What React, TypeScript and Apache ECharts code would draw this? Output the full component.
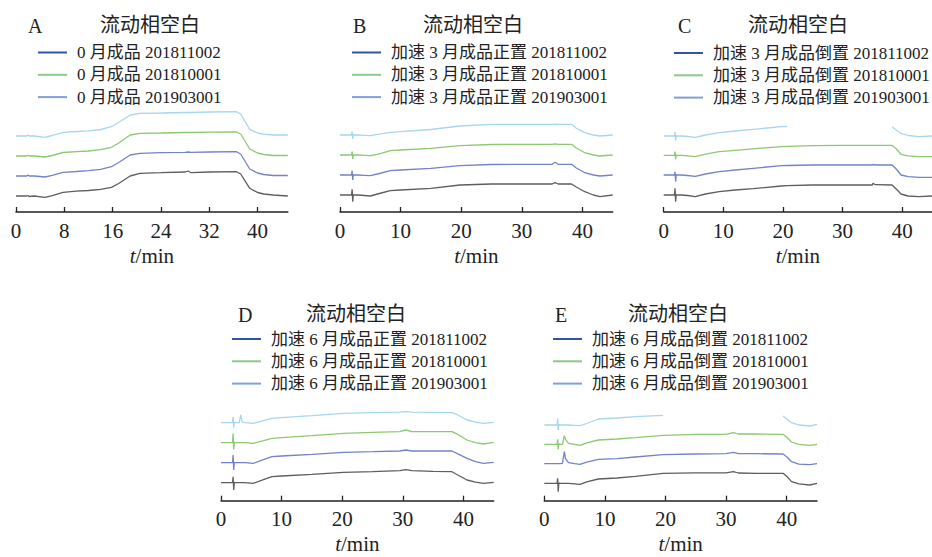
import React, { useEffect, useRef } from "react";
import * as echarts from "echarts";

const FONT = "'Liberation Serif', 'Noto Sans CJK SC', serif";
const TITLE_TEXT = "流动相空白";
const X_NAME = "{i|t}/min";

const COLORS_TRACE = ["#a6d6f0", "#8dc872", "#7383c8", "#5e5e5e"];
const COLORS_LEGEND = ["#2f55a4", "#8cc98a", "#7fa0d8"];

// Panel A
const ticksA = [0, 8, 16, 24, 32, 40];
const legendA = ["0 月成品 201811002", "0 月成品 201810001", "0 月成品 201903001"];
const baseA = [76, 56, 36, 16];
const tA = [0, 1.8, 2.0, 2.2, 3, 4.8, 6, 7.8, 10, 12, 14, 15.8, 17, 18.9, 20.5, 24, 28, 28.5, 29, 32, 36.5, 37.2, 38.7, 40, 41, 42.6, 45];
const A1 = [0, 0, 1, 0, 0, -1.3, 0.5, 3.7, 4.5, 5.2, 6.5, 9.3, 13.5, 21, 22.7, 23, 23.5, 23.5, 23.5, 24, 24.3, 22, 6.7, 3, 1.8, 1, 1];
const A2 = [0, 0, 0.8, 0, 0, -1, 0.5, 3.5, 4.3, 5, 6.3, 8.7, 13, 21, 22.7, 23, 23.5, 23.5, 23.5, 23.8, 24, 22, 7, 3, 1.5, 0.5, 0.5];
const A3 = [0, 0, 1, 0, 0, -1, 0.7, 3.7, 4.5, 5.3, 6.7, 9.3, 13.5, 21, 22.7, 23.3, 23.7, 24, 23.7, 24, 24.3, 22, 7, 3, 1.5, 0.5, 0.5];
const A4 = [0, 0, 0.5, -0.5, 0, -1.3, 0.3, 3.7, 4.8, 5.5, 6.7, 8.7, 12.5, 20, 22.7, 23.3, 24, 25, 23.3, 24, 24.3, 22, 7.7, 3.5, 2, 1, 0];

// Panel B
const ticksB = [0, 10, 20, 30, 40];
const legendB = ["加速 3 月成品正置 201811002", "加速 3 月成品正置 201810001", "加速 3 月成品正置 201903001"];
const baseB = [77, 57, 37, 17];
const tB = [0, 1.9, 2.0, 2.1, 2.2, 2.3, 3, 4, 5, 6.5, 8.3, 10, 15, 19.8, 25, 30, 35, 35.5, 36, 38.2, 39, 40.4, 41.8, 42.9, 45];
const B1 = [0, 0, 3.5, -4, 0.5, 0, 0, -0.3, -0.7, 0.8, 2.7, 3.3, 5.5, 9, 10.7, 10.7, 10.7, 10.8, 10.7, 10.7, 6.7, 2.3, 0, -1, 0];
const B2 = [0, 0, 3.5, -4, 0.5, 0, 0, -0.3, -0.7, 1.2, 4.3, 5, 6.7, 9.3, 10.5, 10.7, 10.7, 11.2, 10.7, 10.7, 7, 2.3, 0, -1, 0];
const B3 = [0, 0, 4.3, -5, 0.5, 0, 0, -0.3, -0.7, 1.5, 4.3, 5, 6.7, 9.3, 10.5, 10.7, 10.7, 12.7, 10.7, 10.7, 7, 2.3, 0, -1, 0];
const B4 = [0, 0, 5.7, -6.7, 0.5, 0, 0, -0.5, -1, 1.5, 4.3, 5, 6.7, 10, 11, 11, 11, 12.3, 11, 11, 8, 3.3, 0, -1.7, 0];

// Panel C
const ticksC = [0, 10, 20, 30, 40];
const legendC = ["加速 3 月成品倒置 201811002", "加速 3 月成品倒置 201810001", "加速 3 月成品倒置 201903001"];
const baseC = [76, 56.7, 37, 17];
const tC = [0, 1.8, 1.9, 2.0, 2.1, 2.2, 3, 4, 5.3, 7, 9.3, 12, 15, 19.7, 20.7, 25, 30, 35, 35.1, 35.5, 38.3, 39, 39.8, 41, 42.8, 45];
const C1 = [0, 0, 4.3, -4.7, 0.5, 0, 0, -0.5, -1.3, 1, 3.3, 5, 6.7, 9.3, 9.5, "-", "-", "-", "-", "-", 9.3, 6, 2.7, 0.5, -0.7, 0];
const C2 = [0, 0, 3.7, -4, 0.5, 0, 0, -0.5, -1.3, 1.2, 3.7, 5, 6.5, 8.7, 9, 9.7, 10, 10, 10, 10, 10, 6.5, 1, -0.5, -1.3, -1.3];
const C3 = [0, 0, 3.3, -6.7, 0.5, 0, 0, -0.5, -1.3, 1, 3.3, 5, 6.7, 9.3, 9.5, 10, 10, 10, 10.5, 10, 10, 6, 0, -1.7, -2.3, -2.3];
const C4 = [0, 0, 6.7, -6.7, 0.5, 0, 0, -0.5, -1.7, 1, 3.3, 5, 6.3, 9, 9.3, 10, 10, 10, 11.7, 10.3, 10, 6, 1, -1, -1.7, -1];

// Panel D
const ticksD = [0, 10, 20, 30, 40];
const legendD = ["加速 6 月成品正置 201811002", "加速 6 月成品正置 201810001", "加速 6 月成品正置 201903001"];
const baseD = [78, 58, 38, 18];
const tD = [0, 1.9, 2.0, 2.1, 2.2, 2.3, 3.0, 3.25, 3.5, 4, 5.3, 7, 8.4, 10, 15, 20.2, 25, 29.5, 30.5, 31.5, 35, 38.1, 39, 40.6, 42, 43.3, 45];
const D1 = [0, 0, 6, -4.7, 0.5, 0, 0, 7.7, 0.5, 0, -0.7, 2, 4.3, 5, 7, 9.3, 10, 10.5, 11, 10.5, 10.3, 10, 8, 2.7, 0.5, -0.7, 0.3];
const D2 = [0, 0, 9.3, -6.7, 0.5, 0, 0, 0, 0, 0, -0.7, 2, 4.3, 5, 7, 9.3, 10.3, 11, 12.7, 11, 11, 11, 8.5, 2.7, 0, -1.3, 0.3];
const D3 = [0, 0, 7.7, -7.3, 0.5, 0, 0, 0, 0, 0, -0.7, 3, 6, 6.7, 8.3, 10.3, 11, 11.7, 12.7, 11.7, 11.7, 11.7, 9, 4.3, 1, -0.7, 0.3];
const D4 = [0, 0, 6, -7.3, 0.5, 0, 0, 0, 0, 0, -0.7, 3, 6, 6.7, 8.3, 10.3, 11, 12, 13, 12, 11.3, 11, 8, 2.7, 0.5, -0.7, 0.3];

// Panel E
const ticksE = [0, 10, 20, 30, 40];
const legendE = ["加速 6 月成品倒置 201811002", "加速 6 月成品倒置 201810001", "加速 6 月成品倒置 201903001"];
const baseE = [75.7, 56.4, 37, 17.4];
const tE = [0, 2.1, 2.2, 2.3, 2.4, 2.5, 3.0, 3.3, 3.5, 4, 5, 5.9, 7, 8.9, 12, 15, 19.6, 25, 30, 31.2, 32, 35, 39.4, 40, 40.8, 42, 43.8, 45];
const E1 = [0, 0, 6.7, -5, 0.5, 0, 0, 0, 0, 0, -0.3, -0.7, 1.5, 6, 7, 8.3, 9.7, "-", "-", "-", "-", "-", 9, 6, 2.3, 0, -1, 0.7];
const E2 = [0, 0, 5, -5, 0.5, 0, 0, 8.7, 5, 1, 0, -1, 1.5, 4.3, 5.3, 6.7, 9, 10, 10, 11.7, 10.3, 10.3, 10, 7, 2.3, 0, -1, 0];
const E3 = [0, 0, 0, 0, 0, 0, 0.3, 12, 5, 1, 0, -0.7, 1.5, 4.3, 5, 6.7, 9, 9.7, 10, 11.3, 10, 10, 9.7, 7, 2, -0.5, -1, 0];
const E4 = [0, 0, 5, -8.3, 0.5, 0, 0, 0, 0, 0, -0.5, -1, 1.5, 4.3, 5.3, 7, 10, 10.5, 10.5, 11.7, 10.3, 10, 10, 7, 1.7, -0.5, -1.7, 0];

const X_MAX = 45;

type Panel = {
  id: string;
  ticks: number[];
  legend: string[];
  base: number[];
  t: number[];
  traces: (number | string)[][];
  grid: { left: number; top: number; width: number; height: number };
  letterPos: [number, number];
  titlePos: [number, number];
  legendPos: [number, number];
};

const panels: Panel[] = [
  { id: "A", ticks: ticksA, legend: legendA, base: baseA, t: tA, traces: [A1, A2, A3, A4],
    grid: { left: 16, top: 100, width: 271.8, height: 112 }, letterPos: [28, 16], titlePos: [100, 15], legendPos: [38, 44] },
  { id: "B", ticks: ticksB, legend: legendB, base: baseB, t: tB, traces: [B1, B2, B3, B4],
    grid: { left: 340, top: 100, width: 272.7, height: 112 }, letterPos: [353, 16], titlePos: [423, 15], legendPos: [352, 44] },
  { id: "C", ticks: ticksC, legend: legendC, base: baseC, t: tC, traces: [C1, C2, C3, C4],
    grid: { left: 663.7, top: 100, width: 272.7, height: 112 }, letterPos: [678, 16], titlePos: [748, 15], legendPos: [674, 44.5] },
  { id: "D", ticks: ticksD, legend: legendD, base: baseD, t: tD, traces: [D1, D2, D3, D4],
    grid: { left: 221, top: 390, width: 272.7, height: 110.7 }, letterPos: [238, 305], titlePos: [306, 304], legendPos: [232, 330.5] },
  { id: "E", ticks: ticksE, legend: legendE, base: baseE, t: tE, traces: [E1, E2, E3, E4],
    grid: { left: 544.3, top: 390, width: 272.7, height: 110.7 }, letterPos: [555, 305], titlePos: [628, 304], legendPos: [553, 330.5] },
];

function buildOption() {
  const grid: any[] = [];
  const xAxis: any[] = [];
  const yAxis: any[] = [];
  const series: any[] = [];
  const legend: any[] = [];
  const title: any[] = [];

  panels.forEach((p, i) => {
    grid.push({ ...p.grid, containLabel: false });
    xAxis.push({
      type: "value",
      gridIndex: i,
      min: 0,
      max: X_MAX,
      name: X_NAME,
      nameLocation: "middle",
      nameGap: 33,
      nameTextStyle: {
        fontFamily: FONT,
        fontSize: 21,
        color: "#222",
        rich: { i: { fontFamily: FONT, fontSize: 21, fontStyle: "italic", color: "#222" } },
      },
      axisLine: { show: true, onZero: false, lineStyle: { color: "#222", width: 1.5 } },
      axisTick: { show: true, inside: true, length: 5, customValues: p.ticks, lineStyle: { color: "#222", width: 1.3 } },
      axisLabel: { show: true, margin: 8, customValues: p.ticks, fontFamily: FONT, fontSize: 21, color: "#222" },
      splitLine: { show: false },
    });
    yAxis.push({
      type: "value",
      gridIndex: i,
      min: 0,
      max: p.grid.height,
      show: false,
      splitLine: { show: false },
    });
    p.traces.forEach((tr, k) => {
      series.push({
        type: "line",
        name: `${p.id}-trace-${k + 1}`,
        xAxisIndex: i,
        yAxisIndex: i,
        symbol: "none",
        silent: true,
        connectNulls: false,
        lineStyle: { color: COLORS_TRACE[k], width: 1.3 },
        itemStyle: { color: COLORS_TRACE[k] },
        data: p.t.map((tv, j) => [tv, tr[j] === "-" ? "-" : (tr[j] as number) + p.base[k]]),
      });
    });
    p.legend.forEach((name, k) => {
      series.push({
        type: "line",
        name,
        xAxisIndex: i,
        yAxisIndex: i,
        symbol: "none",
        lineStyle: { color: COLORS_LEGEND[k], width: 2 },
        itemStyle: { color: COLORS_LEGEND[k] },
        data: [],
      });
    });
    legend.push({
      data: p.legend.map((name, k) => ({ name, icon: "rect", itemStyle: { color: COLORS_LEGEND[k] } })),
      orient: "vertical",
      left: p.legendPos[0],
      top: p.legendPos[1],
      padding: 0,
      icon: "rect",
      itemWidth: 29,
      itemHeight: 2,
      itemGap: 5.3,
      selectedMode: false,
      textStyle: { fontFamily: FONT, fontSize: 17, lineHeight: 17, color: "#222", padding: [0, 0, 0, 5] },
    });
    title.push({
      text: p.id,
      left: p.letterPos[0],
      top: p.letterPos[1],
      padding: 0,
      textStyle: { fontFamily: FONT, fontSize: 20, fontWeight: "normal", color: "#222" },
    });
    title.push({
      text: TITLE_TEXT,
      left: p.titlePos[0],
      top: p.titlePos[1],
      padding: 0,
      textStyle: { fontFamily: FONT, fontSize: 20, fontWeight: "normal", color: "#222" },
    });
  });

  return {
    animation: false,
    backgroundColor: "#ffffff",
    title,
    legend,
    grid,
    xAxis,
    yAxis,
    series,
  };
}

export default function App() {
  const ref = useRef<HTMLDivElement>(null);
  useEffect(() => {
    if (!ref.current) return;
    const chart = echarts.init(ref.current, undefined, { renderer: "svg" });
    chart.setOption(buildOption());
    return () => chart.dispose();
  }, []);
  return (
    <div
      ref={ref}
      style={{ position: "fixed", left: 0, top: 0, width: 932, height: 557, background: "#fff" }}
    />
  );
}
